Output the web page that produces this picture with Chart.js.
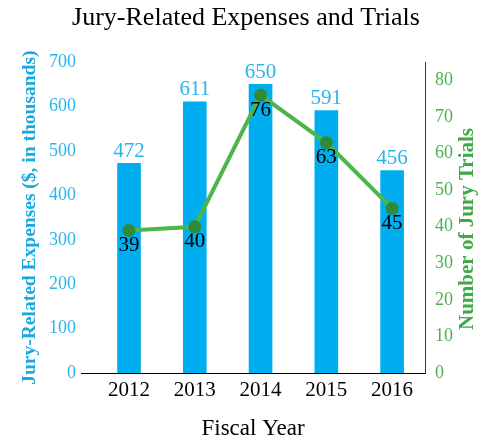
<!DOCTYPE html>
<html>
<head>
<meta charset="utf-8">
<script src="https://cdn.jsdelivr.net/npm/chart.js@4/dist/chart.umd.min.js"></script>
<style>
  body { margin: 0; background: #fff; }
  #box { width: 492px; height: 436px; }
</style>
</head>
<body>
<div id="box"><canvas id="jury-chart" width="492" height="436"></canvas></div>
<script>
// Données
const annees = [2012, 2013, 2014, 2015, 2016];
const depenses = [472, 611, 650, 591, 456];   // milliers de $
const proces = [39, 40, 76, 63, 45];          // nombre de procès
const ticksGauche = [0, 100, 200, 300, 400, 500, 600, 700];
const ticksDroite = [0, 10, 20, 30, 40, 50, 60, 70, 80];

const police = "'Liberation Serif', 'Times New Roman', serif";
const bleu = '#00aeef';
const vert = '#4cb64a';

// Étiquettes de valeurs (barres au-dessus, points en dessous) + titre de droite
const etiquettes = {
    id: 'etiquettes',
    afterDatasetsDraw(chart) {
        const ctx = chart.ctx;
        ctx.save();
        ctx.textAlign = 'center';
        ctx.textBaseline = 'middle';
        ctx.font = '21px ' + police;

        chart.getDatasetMeta(0).data.forEach((bar, i) => {
            ctx.fillStyle = '#29b5ea';
            ctx.fillText(depenses[i], bar.x, bar.y - 12);
        });
        chart.getDatasetMeta(1).data.forEach((pt, i) => {
            ctx.fillStyle = '#000';
            ctx.fillText(proces[i], pt.x, pt.y + 15);
        });

        // Titre de l'axe de droite (lu de bas en haut)
        ctx.translate(468, 229);
        ctx.rotate(-Math.PI / 2);
        ctx.font = 'bold 21px ' + police;
        ctx.fillStyle = '#3daa47';
        ctx.fillText('Number of Jury Trials', 0, 0);
        ctx.restore();
    }
};

const ctx = document.getElementById('jury-chart').getContext('2d');
const graphique = new Chart(ctx, {
    data: {
        datasets: [{
            type: 'bar',
            label: 'Jury-Related Expenses',
            data: annees.map((a, i) => ({ x: a, y: depenses[i] })),
            backgroundColor: bleu,
            barThickness: 23,
            yAxisID: 'y',
            order: 1
        }, {
            type: 'line',
            label: 'Number of Jury Trials',
            data: annees.map((a, i) => ({ x: a, y: proces[i] })),
            borderColor: vert,
            borderWidth: 4,
            pointRadius: 4.5,
            pointBackgroundColor: '#2e8b3a',
            pointBorderColor: '#2e8b3a',
            tension: 0,
            yAxisID: 'yDroite',
            order: 0
        }]
    },
    options: {
        responsive: false,
        animation: false,
        layout: { padding: 0 },
        plugins: {
            legend: { display: false },
            tooltip: { enabled: false },
            title: {
                display: true,
                text: 'Jury-Related Expenses and Trials',
                color: '#000',
                font: { family: police, size: 26, weight: 'normal' },
                padding: { top: 3, bottom: 28 }
            }
        },
        scales: {
            x: {
                type: 'linear',
                offset: false,
                min: 2011.27,
                max: 2016.5,
                afterBuildTicks: s => { s.ticks = annees.map(v => ({ value: v })); },
                afterFit: s => { s.height = 63; },
                grid: { display: false, drawTicks: false },
                border: { display: true, color: '#000', width: 1 },
                ticks: {
                    color: '#000',
                    padding: 5,
                    font: { family: police, size: 21 },
                    callback: v => String(v)
                },
                title: {
                    display: true,
                    text: 'Fiscal Year',
                    color: '#000',
                    font: { family: police, size: 23 },
                    padding: { top: 0, bottom: -7 }
                }
            },
            y: {
                position: 'left',
                min: 0,
                max: 700,
                afterBuildTicks: s => { s.ticks = ticksGauche.map(v => ({ value: v })); },
                afterFit: s => { s.width = 81; },
                grid: { display: false, drawTicks: false },
                border: { display: false },
                ticks: {
                    color: '#29b5ea',
                    padding: 5,
                    font: { family: police, size: 18 }
                },
                title: {
                    display: true,
                    text: 'Jury-Related Expenses ($, in thousands)',
                    color: '#1ba8e0',
                    font: { family: police, size: 19.5, weight: 'bold' },
                    padding: { top: 18 }
                }
            },
            yDroite: {
                position: 'right',
                min: 0,
                max: 85,
                afterBuildTicks: s => { s.ticks = ticksDroite.map(v => ({ value: v })); },
                afterFit: s => { s.width = 67; },
                grid: { display: false, drawTicks: false },
                border: { display: true, color: '#333', width: 1 },
                ticks: {
                    color: '#4cb050',
                    padding: 10,
                    font: { family: police, size: 18 }
                }
            }
        }
    },
    plugins: [etiquettes]
});
</script>
</body>
</html>
